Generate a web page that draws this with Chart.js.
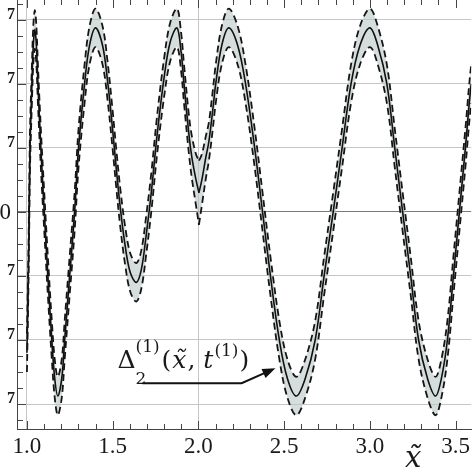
<!DOCTYPE html>
<html>
<head>
<meta charset="utf-8">
<script src="https://cdn.jsdelivr.net/npm/chart.js@4.4.1/dist/chart.umd.min.js"></script>
<style>
html, body { margin: 0; padding: 0; background: #fff; }
#wrap { width: 474px; height: 474px; position: relative; }
</style>
</head>
<body>
<div id="wrap"><canvas id="chart"></canvas></div>
<script>
// sample positions along x~
var xs = [
  1.000, 1.008, 1.013, 1.018, 1.029, 1.037, 1.046, 1.055,
  1.064, 1.081, 1.101, 1.122, 1.145, 1.162, 1.180,
  1.203, 1.220, 1.249, 1.278, 1.301, 1.336, 1.365, 1.400,
  1.441, 1.470, 1.499, 1.522, 1.545, 1.574, 1.603, 1.638,
  1.667, 1.696, 1.725, 1.759, 1.800, 1.835, 1.875,
  1.899, 1.916, 1.945, 1.962, 1.986, 2.003,
  2.020, 2.043, 2.061, 2.084, 2.101, 2.136, 2.177,
  2.229, 2.275, 2.328, 2.374, 2.420, 2.472, 2.519, 2.571,
  2.623, 2.681, 2.733, 2.786, 2.838, 2.890, 2.942, 3.000,
  3.046, 3.099, 3.145, 3.191, 3.238, 3.284, 3.336, 3.383,
  3.417, 3.452, 3.487, 3.522, 3.557, 3.591, 3.626, 3.661
];
// mean of the ensemble (solid curve), in units of 1e-7
var mean = [
  -2.2, -1.0, 0.0, 1.0, 2.0, 2.6, 2.85, 2.6,
  2.0, 1.0, 0.0, -1.0, -2.0, -2.6, -2.875,
  -2.6, -2.0, -1.0, 0.0, 1.0, 2.0, 2.6, 2.875,
  2.6, 2.05, 1.3, 0.65, 0.05, -0.55, -0.95, -1.1,
  -0.9, -0.35, 0.3, 1.2, 2.1, 2.65, 2.875,
  2.5, 2.0, 1.2, 0.85, 0.5, 0.3,
  0.5, 0.85, 1.1, 1.6, 2.0, 2.6, 2.875,
  2.6, 2.0, 1.0, 0.0, -1.0, -2.0, -2.6, -2.875,
  -2.6, -2.0, -1.0, 0.0, 1.0, 2.0, 2.6, 2.875,
  2.6, 2.0, 1.0, 0.0, -1.0, -2.0, -2.6, -2.875,
  -2.6, -2.0, -1.0, 0.0, 1.0, 2.0, 2.6, 2.875
];
// half width of the dashed envelope
var spread = [
  0.3, 0.3, 0.3, 0.3, 0.3, 0.3, 0.3, 0.3,
  0.3, 0.3, 0.3, 0.3, 0.3, 0.3, 0.3,
  0.3, 0.3, 0.3, 0.3, 0.3, 0.3, 0.3, 0.3,
  0.3, 0.3, 0.3, 0.3, 0.3, 0.3, 0.3, 0.3,
  0.3, 0.3, 0.3, 0.3, 0.3, 0.3, 0.3,
  0.3, 0.3, 0.3, 0.33, 0.4, 0.5,
  0.4, 0.33, 0.3, 0.3, 0.3, 0.3, 0.3,
  0.3, 0.3, 0.3, 0.3, 0.3, 0.3, 0.3, 0.3,
  0.3, 0.3, 0.3, 0.3, 0.3, 0.3, 0.3, 0.3,
  0.3, 0.3, 0.3, 0.3, 0.3, 0.3, 0.3, 0.3,
  0.3, 0.3, 0.3, 0.3, 0.3, 0.3, 0.3, 0.3
];
// the curves have a cusp here
var kinkX = 2.003;

var xTicks = [1.0, 1.5, 2.0, 2.5, 3.0, 3.5];
var xTickLabels = ['1.0', '1.5', '2.0', '2.5', '3.0', '3.5'];
var xGridAt = [1.0, 2.0];
var yTicks = [-3, -2, -1, 0, 1, 2, 3];
var yTickLabels = ['7', '7', '7', '0', '7', '7', '7'];

var lower = [], upper = [], meanPts = [];
for (var i = 0; i < xs.length; i++) {
  lower.push({x: xs[i], y: mean[i] - spread[i]});
  upper.push({x: xs[i], y: mean[i] + spread[i]});
  meanPts.push({x: xs[i], y: mean[i]});
  if (xs[i] === kinkX) {
    // break the spline so the cusp stays sharp
    [lower, upper, meanPts].forEach(function(arr) {
      var last = arr[arr.length - 1];
      arr.push({x: xs[i], y: null});
      arr.push({x: last.x, y: last.y});
    });
  }
}

var SERIF = '"Liberation Serif", "DejaVu Serif", serif';
var MATH = '"DejaVu Serif", serif';

// inward frame ticks, y labels, annotation and axis title
var decorations = {
  id: 'decorations',
  afterDraw: function(chart) {
    var ctx = chart.ctx;
    var xs_ = chart.scales.x, ys_ = chart.scales.y;
    var a = chart.chartArea;
    ctx.save();
    ctx.strokeStyle = '#444';
    ctx.lineWidth = 1;
    ctx.beginPath();
    for (var k = 9; k <= 37; k++) {
      var v = k / 10;
      var px = Math.round(xs_.getPixelForValue(v)) + 0.5;
      if (px < a.left || px > a.right) continue;
      var len = (k % 5 === 0) ? 8 : 5;
      ctx.moveTo(px, a.bottom); ctx.lineTo(px, a.bottom - len);
      ctx.moveTo(px, a.top); ctx.lineTo(px, a.top + len);
    }
    for (var j = -14; j <= 14; j++) {
      var vy = j / 4;
      var py = Math.round(ys_.getPixelForValue(vy)) + 0.5;
      if (py < a.top || py > a.bottom) continue;
      var l2 = (j % 4 === 0) ? 9 : 6;
      ctx.moveTo(a.left, py); ctx.lineTo(a.left + l2, py);
    }
    ctx.stroke();

    // y tick labels (only the tail of each label is inside the picture)
    ctx.fillStyle = '#1a1a1a';
    ctx.textAlign = 'right';
    ctx.textBaseline = 'middle';
    for (var t = 0; t < yTicks.length; t++) {
      var ty = ys_.getPixelForValue(yTicks[t]);
      if (yTickLabels[t] === '0') {
        ctx.font = '23px ' + SERIF;
        ctx.fillText(yTickLabels[t], 11, ty + 1);
      } else {
        ctx.font = 'bold 16px ' + SERIF;
        ctx.fillText(yTickLabels[t], 15, ty - 5);
      }
    }

    // axis title x~
    ctx.textAlign = 'left';
    ctx.textBaseline = 'alphabetic';
    ctx.font = 'italic 29px ' + MATH;
    ctx.fillText('x\u0303', 405, 467);

    // annotation with arrow
    var tipX = xs_.getPixelForValue(2.449), tipY = ys_.getPixelForValue(-2.44);
    var baseY = tipY;
    var x0 = xs_.getPixelForValue(1.528);
    ctx.font = '25px ' + MATH;
    ctx.fillText('\u0394', x0, baseY);
    var w = ctx.measureText('\u0394').width;
    ctx.font = '17px ' + MATH;
    ctx.fillText('2', x0 + w, baseY + 16);
    ctx.fillText('(1)', x0 + w, baseY - 16);
    var cx = x0 + w + ctx.measureText('(1)').width + 2;
    ctx.font = '25px ' + MATH;
    ctx.fillText('(', cx, baseY); cx += ctx.measureText('(').width + 1;
    ctx.font = 'italic 25px ' + MATH;
    ctx.fillText('x\u0303', cx, baseY); cx += ctx.measureText('x').width + 1;
    ctx.font = '25px ' + MATH;
    ctx.fillText(',', cx, baseY); cx += ctx.measureText(', ').width;
    ctx.font = 'italic 25px ' + MATH;
    ctx.fillText('t', cx, baseY); cx += ctx.measureText('t').width + 1;
    ctx.font = '17px ' + MATH;
    ctx.fillText('(1)', cx, baseY - 12); cx += ctx.measureText('(1)').width + 1;
    ctx.font = '25px ' + MATH;
    ctx.fillText(')', cx, baseY);

    var lineY = baseY + 15;
    var startX = xs_.getPixelForValue(1.673);
    var bendX = xs_.getPixelForValue(2.252);
    ctx.strokeStyle = '#111';
    ctx.lineWidth = 2;
    ctx.beginPath();
    ctx.moveTo(startX, lineY);
    ctx.lineTo(bendX, lineY);
    var ang = Math.atan2(tipY - lineY, tipX - bendX);
    var hx = tipX - 9 * Math.cos(ang), hy = tipY - 9 * Math.sin(ang);
    ctx.lineTo(hx, hy);
    ctx.stroke();
    ctx.fillStyle = '#111';
    ctx.beginPath();
    ctx.moveTo(tipX, tipY);
    ctx.lineTo(tipX - 13 * Math.cos(ang) + 5 * Math.sin(ang), tipY - 13 * Math.sin(ang) - 5 * Math.cos(ang));
    ctx.lineTo(tipX - 13 * Math.cos(ang) - 5 * Math.sin(ang), tipY - 13 * Math.sin(ang) + 5 * Math.cos(ang));
    ctx.closePath();
    ctx.fill();
    ctx.restore();
  }
};

var ctx = document.getElementById('chart').getContext('2d');
window.chart = new Chart(ctx, {
  type: 'line',
  data: {
    datasets: [
      {
        label: 'lower',
        data: lower,
        borderColor: '#151515',
        borderWidth: 1.8,
        borderDash: [7, 4],
        pointRadius: 0,
        tension: 0.35,
        fill: false
      },
      {
        label: 'upper',
        data: upper,
        borderColor: '#151515',
        borderWidth: 1.8,
        borderDash: [7, 4],
        pointRadius: 0,
        tension: 0.35,
        fill: '-1',
        backgroundColor: 'rgba(186, 198, 198, 0.6)'
      },
      {
        label: 'mean',
        data: meanPts,
        borderColor: '#111',
        borderWidth: 1.6,
        pointRadius: 0,
        tension: 0.35,
        fill: false
      }
    ]
  },
  options: {
    responsive: true,
    maintainAspectRatio: false,
    animation: false,
    layout: { padding: 0 },
    plugins: {
      legend: { display: false },
      tooltip: { enabled: false },
      filler: { drawTime: 'beforeDatasetsDraw' }
    },
    scales: {
      x: {
        type: 'linear',
        min: 0.942,
        max: 3.591,
        afterBuildTicks: function(scale) {
          scale.ticks = xTicks.map(function(v) { return {value: v}; });
        },
        afterFit: function(scale) { scale.height = 45; },
        grid: {
          drawTicks: false,
          color: function(c) {
            return (c.tick && xGridAt.indexOf(c.tick.value) >= 0) ? '#c6c6c6' : 'rgba(0,0,0,0)';
          },
          lineWidth: 1
        },
        border: { display: true, color: '#444', width: 1 },
        ticks: {
          padding: 4,
          maxRotation: 0,
          autoSkip: false,
          color: '#1a1a1a',
          font: { family: SERIF, size: 23 },
          callback: function(v, idx) { return xTickLabels[idx]; }
        }
      },
      y: {
        type: 'linear',
        min: -3.39,
        max: 3.31,
        afterBuildTicks: function(scale) {
          scale.ticks = yTicks.map(function(v) { return {value: v}; });
        },
        afterFit: function(scale) { scale.width = 17; },
        grid: {
          drawTicks: false,
          color: function(c) {
            return (c.tick && c.tick.value === 0) ? '#7a7a7a' : '#c6c6c6';
          },
          lineWidth: 1
        },
        border: { display: true, color: '#444', width: 1 },
        ticks: { display: false }
      }
    }
  },
  plugins: [decorations]
});
</script>
</body>
</html>
